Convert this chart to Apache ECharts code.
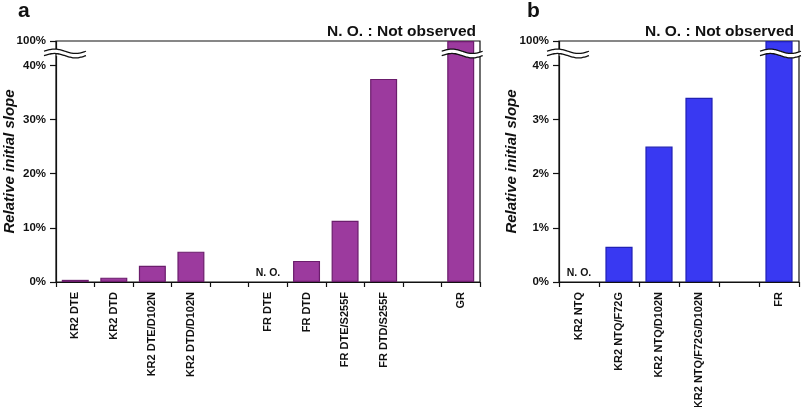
<!DOCTYPE html>
<html><head><meta charset="utf-8">
<script src="https://cdn.jsdelivr.net/npm/echarts@6/dist/echarts.min.js"></script>
<style>html,body{margin:0;padding:0;background:#fff}#c{width:805px;height:407px}</style>
</head><body><div id="c"></div>
<script>
// ---- data ----
const categoriesA = ['KR2 DTE', 'KR2 DTD', 'KR2 DTE/D102N', 'KR2 DTD/D102N', ' ', 'FR DTE', 'FR DTD', 'FR DTE/S255F', 'FR DTD/S255F', '  ', 'GR'];
const valuesA = [0.4, 0.8, 3.0, 5.6, null, 0, 3.9, 11.3, 37.5, null, 100];
const notObservedA = ['FR DTE'];
const tickValuesA = [0, 10, 20, 30, 40, 100];
const breakA = { start: 41.7, end: 98.2 };

const categoriesB = ['KR2 NTQ', 'KR2 NTQ/F72G', 'KR2 NTQ/D102N', 'KR2 NTQ/F72G/D102N', ' ', 'FR'];
const valuesB = [0, 0.65, 2.5, 3.4, null, 100];
const notObservedB = ['KR2 NTQ'];
const tickValuesB = [0, 1, 2, 3, 4, 100];
const breakB = { start: 4.17, end: 99.82 };

const panelLetters = ['a', 'b'];
const noteText = 'N. O. : Not observed';
const yName = 'Relative initial slope';
const brokenBars = [['GR'], ['FR']];

// ---- styles ----
const FONT = '"Liberation Sans", Arial, sans-serif';
const colA = { fill: '#9c3a9e', border: '#6b1d6c' };
const colB = { fill: '#3939f2', border: '#2121b4' };

function buildData(cats, vals, no) {
  return vals.map((v, i) => no.includes(cats[i]) ? {
    value: v,
    itemStyle: { color: 'transparent', borderWidth: 0 },
    label: { show: true, formatter: 'N. O.', position: 'top', distance: 3,
             fontFamily: FONT, fontWeight: 'bold', fontSize: 10.5, color: '#111' }
  } : v);
}

function xAxisCfg(idx, cats) {
  return {
    type: 'category', gridIndex: idx, data: cats,
    axisLine: { lineStyle: { color: '#111', width: 1.2 } },
    axisTick: { show: true, length: 5, lineStyle: { color: '#111', width: 1.2 } },
    axisLabel: { interval: 0, rotate: 90, margin: 10, fontFamily: FONT, fontWeight: 'bold', fontSize: 11, color: '#111' },
    splitLine: { show: false }
  };
}
function yAxisCfg(idx, ticks, br) {
  return {
    type: 'value', gridIndex: idx, min: 0, max: 100,
    breaks: [{ start: br.start, end: br.end, gap: '2.25%' }],
    breakArea: { show: false, expandOnClick: false },
    axisLine: { show: true, lineStyle: { color: '#111', width: 1.2 } },
    axisTick: { show: true, length: 6, customValues: ticks, lineStyle: { color: '#111', width: 1.2 } },
    axisLabel: { customValues: ticks, margin: 10, formatter: v => v + '%', fontFamily: FONT, fontWeight: 'bold', fontSize: 11.5, color: '#111' },
    splitLine: { show: false }
  };
}
function grid(left, right) {
  return { left: left, right: right, top: 41, bottom: 125, show: true, borderColor: '#111', borderWidth: 1.2,
           backgroundColor: 'transparent', outerBoundsMode: 'none' };
}

const chart = echarts.init(document.getElementById('c'), null, { renderer: 'canvas' });
chart.setOption({
  animation: false,
  backgroundColor: '#fff',
  grid: [grid(56, 325), grid(559, 6)],
  xAxis: [xAxisCfg(0, categoriesA), xAxisCfg(1, categoriesB)],
  yAxis: [yAxisCfg(0, tickValuesA, breakA), yAxisCfg(1, tickValuesB, breakB)],
  series: [
    { type: 'bar', xAxisIndex: 0, yAxisIndex: 0, barWidth: '70%', data: buildData(categoriesA, valuesA, notObservedA),
      itemStyle: { color: colA.fill, borderColor: colA.border, borderWidth: 1.2 } },
    { type: 'bar', xAxisIndex: 1, yAxisIndex: 1, barWidth: '68%', data: buildData(categoriesB, valuesB, notObservedB),
      itemStyle: { color: colB.fill, borderColor: colB.border, borderWidth: 1.2 } }
  ]
});

// ---- decorations: panel letters, note, axis names, axis-break squiggles ----
function wave(x0, x1, yc, amp) {
  const pts = [], N = 24;
  for (let t = 0; t <= N; t++) pts.push([x0 + (x1 - x0) * t / N, yc - amp * Math.sin(2 * Math.PI * t / N)]);
  return pts;
}
function breakMark(x0, x1, yTop, yBot) {
  const top = wave(x0, x1, yTop, 2.2), bot = wave(x0, x1, yBot, 2.2);
  return [
    { type: 'polygon', z: 100, shape: { points: top.concat(bot.slice().reverse()) }, style: { fill: '#fff', stroke: null } },
    { type: 'polyline', z: 101, shape: { points: top, smooth: 0.4 }, style: { stroke: '#111', lineWidth: 1.3, fill: null } },
    { type: 'polyline', z: 101, shape: { points: bot, smooth: 0.4 }, style: { stroke: '#111', lineWidth: 1.3, fill: null } }
  ];
}
const brks = [breakA, breakB];
const letterX = [18, 527];
const noteRight = [476, 794];
const nameX = [10, 512];
const gfx = [];
[0, 1].forEach(i => {
  const yTop = chart.convertToPixel({ yAxisIndex: i }, brks[i].end);
  const yBot = chart.convertToPixel({ yAxisIndex: i }, brks[i].start);
  const y0 = chart.convertToPixel({ yAxisIndex: i }, 0);
  const y100 = chart.convertToPixel({ yAxisIndex: i }, 100);
  const axisX = chart.convertToPixel({ xAxisIndex: i }, i === 0 ? categoriesA[0] : categoriesB[0]);
  const cw = (chart.convertToPixel({ xAxisIndex: i }, i === 0 ? categoriesA[1] : categoriesB[1]) - axisX);
  const ax = axisX - cw / 2;
  gfx.push(...breakMark(ax - 12, ax + 30, yTop + 0.5, yBot - 0.5));
  brokenBars[i].forEach(c => {
    const cx = chart.convertToPixel({ xAxisIndex: i }, c);
    gfx.push(...breakMark(cx - 19, cx + 22, yTop + 0.5, yBot - 0.5));
  });
  gfx.push({ type: 'text', z: 102, style: { x: letterX[i], y: 22, text: panelLetters[i], textVerticalAlign: 'bottom',
    font: 'bold 21px ' + FONT, fill: '#111' } });
  gfx.push({ type: 'text', z: 102, style: { x: noteRight[i], y: 39.5, text: noteText, textAlign: 'right', textVerticalAlign: 'bottom',
    font: 'bold 15.5px ' + FONT, fill: '#111' } });
  gfx.push({ type: 'text', z: 102, x: nameX[i], y: (y0 + y100) / 2, rotation: Math.PI / 2,
    style: { x: 0, y: 0, text: yName, textAlign: 'center', textVerticalAlign: 'middle',
      font: 'italic bold 15px ' + FONT, fill: '#111' } });
});
chart.setOption({ graphic: gfx });
</script>
</body></html>
